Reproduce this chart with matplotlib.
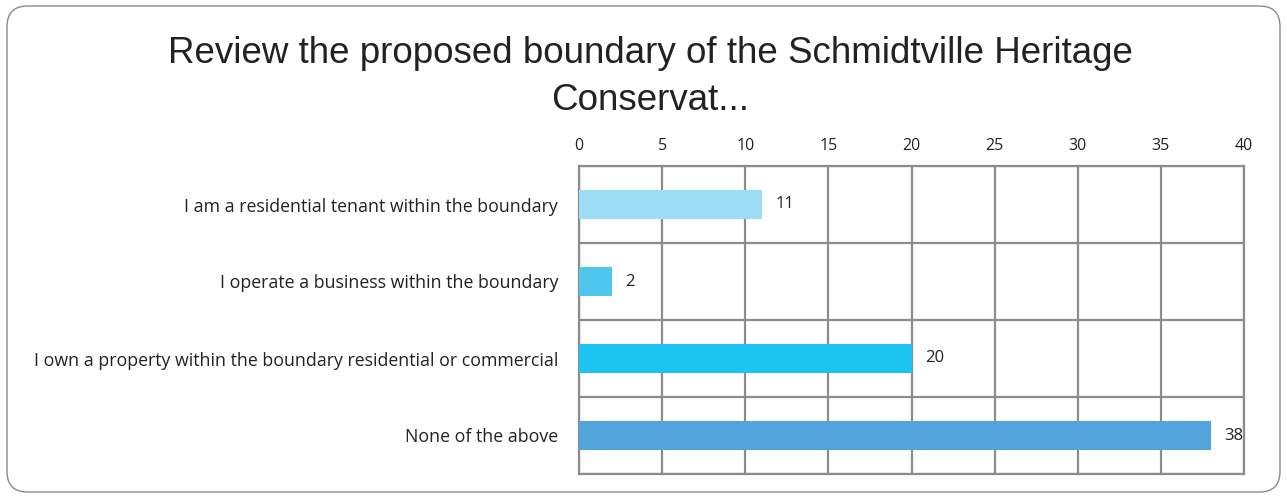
import matplotlib.pyplot as plt
from matplotlib.patches import FancyBboxPatch

categories = [
    "I am a residential tenant within the boundary",
    "I operate a business within the boundary",
    "I own a property within the boundary residential or commercial",
    "None of the above",
]
counts = [11, 2, 20, 38]
colors = ["#9ddcf5", "#4fc6ee", "#1ec4f1", "#52a5dc"]
x_ticks = [0, 5, 10, 15, 20, 25, 30, 35, 40]
title = "Review the proposed boundary of the Schmidtville Heritage\nConservat..."

fig = plt.figure(figsize=(12.87, 4.99), dpi=100)

# rounded frame around the whole chart
frame = FancyBboxPatch((7 / 1287, 7 / 499), 1273 / 1287, 486 / 499,
                       boxstyle="round,pad=0,rounding_size=0.016",
                       transform=fig.transFigure, fill=False,
                       edgecolor="#8a8a8a", linewidth=1.0,
                       mutation_aspect=1287 / 499)
fig.patches.append(frame)

fig.text(650 / 1287, 1 - 77 / 499, title, ha="center", va="center",
         fontsize=26.5, family="Liberation Sans", color="#222222",
         linespacing=1.42)

ax = fig.add_axes([579 / 1287, 1 - 474 / 499, 665 / 1287, 308 / 499])
y = list(range(len(categories)))
ax.barh(y, counts, height=0.38, color=colors, zorder=3)
for yi, v in zip(y, counts):
    ax.text(v + 0.8, yi, str(v), va="center", ha="left", fontsize=12,
            family="Open Sans", color="#222222")

ax.set_xlim(0, 40)
ax.set_ylim(len(categories) - 0.5, -0.5)
ax.set_xticks(x_ticks)
ax.xaxis.tick_top()
ax.tick_params(axis="x", length=0, pad=9, labelsize=11.5, colors="#222222")
ax.set_yticks(y)
ax.set_yticklabels(categories, fontsize=12.8, family="Open Sans", color="#222222")
ax.tick_params(axis="y", length=0, pad=15)
for lbl in ax.get_xticklabels():
    lbl.set_family("Open Sans")

ax.set_yticks([i + 0.5 for i in range(-1, len(categories))], minor=True)
ax.tick_params(axis="y", which="minor", length=0)
ax.grid(axis="x", which="major", color="#8c8c8c", linewidth=1.6, zorder=0)
ax.grid(axis="y", which="minor", color="#8c8c8c", linewidth=1.6, zorder=0)
for s in ax.spines.values():
    s.set_color("#8c8c8c")
    s.set_linewidth(1.6)

fig.savefig("out.png", dpi=100)
